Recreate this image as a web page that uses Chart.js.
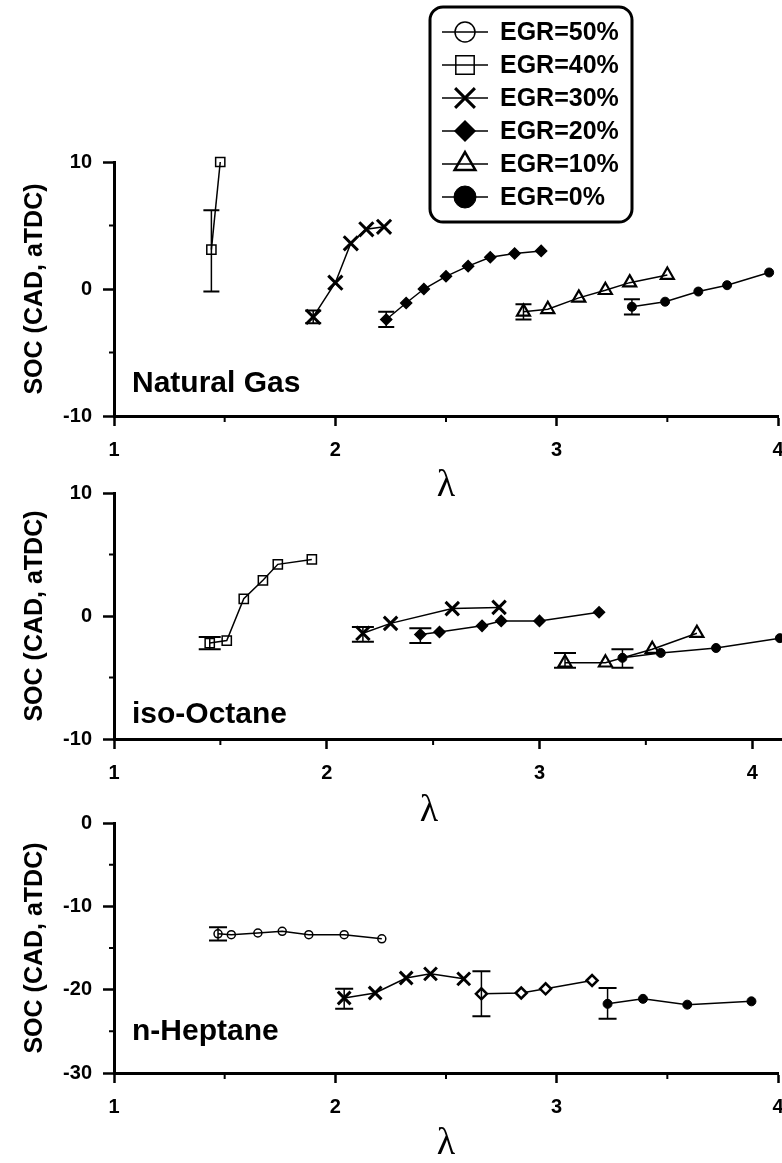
<!DOCTYPE html>
<html>
<head>
<meta charset="utf-8">
<title>SOC vs lambda</title>
<script src="https://cdn.jsdelivr.net/npm/chart.js@4.4.1/dist/chart.umd.min.js"></script>
<style>
  html, body { margin: 0; padding: 0; background: #fff; width: 782px; height: 1163px; overflow: hidden; }
  .panel { position: absolute; left: 0; }
  #ngChart { top: 0; }
  #ioChart { top: 470px; }
  #nhChart { top: 800px; }
</style>
</head>
<body>
<canvas id="ngChart" class="panel" width="800" height="505"></canvas>
<canvas id="ioChart" class="panel" width="800" height="360"></canvas>
<canvas id="nhChart" class="panel" width="800" height="363"></canvas>
<script>
'use strict';

/* ---- axis ticks ---- */
const xTicks = [1, 2, 3, 4];
const xMinor = [1.5, 2.5, 3.5];
const socTicks = [-10, 0, 10];
const socMinor = [-5, 5];
const heptTicks = [-30, -20, -10, 0];
const heptMinor = [-25, -15, -5];

const egrLabels = ['EGR=50%', 'EGR=40%', 'EGR=30%', 'EGR=20%', 'EGR=10%', 'EGR=0%'];
const fuelNames = ['Natural Gas', 'iso-Octane', 'n-Heptane'];

/* ---- Natural Gas ---- */
const ng40X = [1.44, 1.48];
const ng40Y = [3.1, 10.0];
const ng30X = [1.90, 2.00, 2.07, 2.14, 2.22];
const ng30Y = [-2.2, 0.5, 3.6, 4.7, 4.9];
const ng20X = [2.23, 2.32, 2.40, 2.50, 2.60, 2.70, 2.81, 2.93];
const ng20Y = [-2.4, -1.1, 0.0, 1.0, 1.8, 2.5, 2.8, 3.0];
const ng10X = [2.85, 2.96, 3.10, 3.22, 3.33, 3.50];
const ng10Y = [-1.8, -1.6, -0.7, -0.1, 0.5, 1.1];
const ng0X = [3.34, 3.49, 3.64, 3.77, 3.96];
const ng0Y = [-1.4, -1.0, -0.2, 0.3, 1.3];
// [point index, low, high]
const ng40Err = [[0, -0.2, 6.2]];
const ng30Err = [[0, -2.7, -1.7]];
const ng20Err = [[0, -3.0, -1.8]];
const ng10Err = [[0, -2.4, -1.2]];
const ng0Err = [[0, -2.0, -0.8]];

/* ---- iso-Octane ---- */
const io40X = [1.45, 1.53, 1.61, 1.70, 1.77, 1.93];
const io40Y = [-2.2, -2.0, 1.4, 2.9, 4.2, 4.6];
const io30X = [2.17, 2.30, 2.59, 2.81];
const io30Y = [-1.4, -0.6, 0.6, 0.7];
const io20X = [2.44, 2.53, 2.73, 2.82, 3.00, 3.28];
const io20Y = [-1.5, -1.3, -0.8, -0.4, -0.4, 0.3];
const io10X = [3.12, 3.31, 3.53, 3.74];
const io10Y = [-3.8, -3.8, -2.7, -1.4];
const io0X = [3.39, 3.57, 3.83, 4.13];
const io0Y = [-3.4, -3.0, -2.6, -1.8];
const io40Err = [[0, -2.7, -1.7]];
const io30Err = [[0, -2.1, -0.9]];
const io20Err = [[0, -2.2, -1.0]];
const io10Err = [[0, -4.2, -3.0]];
const io0Err = [[0, -4.2, -2.7]];

/* ---- n-Heptane ---- */
const nh50X = [1.47, 1.53, 1.65, 1.76, 1.88, 2.04, 2.21];
const nh50Y = [-13.3, -13.4, -13.2, -13.0, -13.4, -13.4, -13.9];
const nh30X = [2.04, 2.18, 2.32, 2.43, 2.58];
const nh30Y = [-21.0, -20.4, -18.6, -18.1, -18.7];
const nh20X = [2.66, 2.84, 2.95, 3.16];
const nh20Y = [-20.5, -20.4, -19.9, -18.9];
const nh0X = [3.23, 3.39, 3.59, 3.88];
const nh0Y = [-21.7, -21.1, -21.8, -21.4];
const nh50Err = [[0, -14.1, -12.5]];
const nh30Err = [[0, -22.3, -19.9]];
const nh20Err = [[0, -23.2, -17.8]];
const nh0Err = [[0, -23.5, -19.8]];

/* ---- marker look per EGR level ---- */
const CLEAR = 'rgba(0,0,0,0)';
const MARKERS = {
  'EGR=50%': { pointStyle: 'circle', fill: CLEAR, radius: 4, border: 1.5, legendRadius: 10, legendBorder: 1.5 },
  'EGR=40%': { pointStyle: 'rect', fill: CLEAR, radius: 6.5, border: 1.5, legendRadius: 13, legendBorder: 1.5 },
  'EGR=30%': { pointStyle: 'crossRot', fill: CLEAR, radius: 10, border: 3, legendRadius: 14, legendBorder: 3 },
  'EGR=20%': { pointStyle: 'rectRot', fill: '#000', radius: 5.5, border: 1.5, legendRadius: 10, legendBorder: 1.5 },
  'EGR=10%': { pointStyle: 'triangle', fill: CLEAR, radius: 7.5, border: 2.2, legendRadius: 12, legendBorder: 2.5 },
  'EGR=0%': { pointStyle: 'circle', fill: '#000', radius: 4.5, border: 1, legendRadius: 11, legendBorder: 1 },
};

const FONT = '"Liberation Sans", Arial, Helvetica, sans-serif';
const TICK_FONT = { family: FONT, size: 20, weight: 'bold' };

function series(label, xs, ys, errs, tweak = {}) {
  const m = MARKERS[label];
  return {
    label,
    data: xs.map((x, i) => ({ x, y: ys[i] })),
    showLine: true,
    tension: 0,
    fill: false,
    clip: false,
    borderColor: '#000',
    borderWidth: 1.5,
    pointStyle: m.pointStyle,
    pointRadius: (tweak.radius || m.radius),
    pointHoverRadius: (tweak.radius || m.radius),
    pointBackgroundColor: tweak.fill || m.fill,
    pointBorderColor: '#000',
    pointBorderWidth: tweak.border || m.border,
    errorBars: errs || [],
  };
}

/* vertical error bars with caps, placed through the y scale */
const errorBarPlugin = {
  id: 'errorBars',
  afterDatasetsDraw(chart, args, opts) {
    const { ctx } = chart;
    const yScale = chart.scales.y;
    ctx.save();
    ctx.strokeStyle = '#000';
    chart.data.datasets.forEach((ds, di) => {
      const meta = chart.getDatasetMeta(di);
      (ds.errorBars || []).forEach(([idx, lo, hi]) => {
        const pt = meta.data[idx];
        if (!pt) return;
        const yLo = yScale.getPixelForValue(lo);
        const yHi = yScale.getPixelForValue(hi);
        const half = opts.cap / 2;
        ctx.lineWidth = opts.lineWidth;
        ctx.beginPath();
        ctx.moveTo(pt.x, yLo);
        ctx.lineTo(pt.x, yHi);
        ctx.stroke();
        ctx.lineWidth = opts.capWidth;
        ctx.beginPath();
        ctx.moveTo(pt.x - half, yLo);
        ctx.lineTo(pt.x + half, yLo);
        ctx.moveTo(pt.x - half, yHi);
        ctx.lineTo(pt.x + half, yHi);
        ctx.stroke();
      });
    });
    ctx.restore();
  },
};

/* short unlabelled ticks between the major ones */
const minorTickPlugin = {
  id: 'minorTicks',
  afterDraw(chart, args, opts) {
    const { ctx, scales: { x, y } } = chart;
    ctx.save();
    ctx.strokeStyle = '#000';
    ctx.lineWidth = 2;
    ctx.beginPath();
    (opts.x || []).forEach((v) => {
      const px = x.getPixelForValue(v);
      ctx.moveTo(px, x.top);
      ctx.lineTo(px, x.top + opts.xLen);
    });
    (opts.y || []).forEach((v) => {
      const py = y.getPixelForValue(v);
      ctx.moveTo(y.right, py);
      ctx.lineTo(y.right - opts.yLen, py);
    });
    ctx.stroke();
    ctx.restore();
  },
};

/* fuel name in the lower-left corner of each panel */
const panelLabelPlugin = {
  id: 'panelLabel',
  afterDraw(chart, args, opts) {
    if (!opts.text) return;
    const { ctx, chartArea } = chart;
    ctx.save();
    ctx.font = 'bold 30px ' + FONT;
    ctx.fillStyle = '#000';
    ctx.textBaseline = 'alphabetic';
    ctx.fillText(opts.text, chartArea.left + opts.dx, chartArea.bottom - opts.dy);
    ctx.restore();
  },
};

/* boxed key for all EGR levels, drawn above the first panel */
const egrLegendPlugin = {
  id: 'egrLegend',
  afterDraw(chart, args, opts) {
    if (!opts.show) return;
    const { ctx } = chart;
    ctx.save();
    ctx.strokeStyle = '#000';
    ctx.lineWidth = 3;
    ctx.beginPath();
    ctx.roundRect(opts.left, opts.top, opts.width, opts.height, 13);
    ctx.stroke();
    egrLabels.forEach((label, i) => {
      const m = MARKERS[label];
      const cy = opts.firstRow + i * opts.rowGap;
      ctx.strokeStyle = '#000';
      ctx.lineWidth = 1.5;
      ctx.beginPath();
      ctx.moveTo(opts.left + 12, cy);
      ctx.lineTo(opts.left + 58, cy);
      ctx.stroke();
      ctx.fillStyle = m.fill;
      ctx.lineWidth = m.legendBorder;
      Chart.helpers.drawPoint(ctx, {
        pointStyle: m.pointStyle,
        radius: m.legendRadius,
        rotation: 0,
        borderWidth: m.legendBorder,
      }, opts.left + 35, cy);
      ctx.fillStyle = '#000';
      ctx.font = 'bold 25px ' + FONT;
      ctx.textBaseline = 'middle';
      ctx.textAlign = 'left';
      ctx.fillText(label, opts.left + 70, cy + 1);
    });
    ctx.restore();
  },
};

function makePanel(canvasId, cfg) {
  return new Chart(document.getElementById(canvasId), {
    type: 'scatter',
    data: { datasets: cfg.datasets },
    options: {
      responsive: false,
      animation: false,
      events: [],
      layout: { padding: { left: 0, top: cfg.padTop, right: cfg.padRight, bottom: 0 } },
      scales: {
        x: {
          type: 'linear',
          min: 1,
          max: cfg.xMax,
          afterBuildTicks: (s) => { s.ticks = xTicks.map((v) => ({ value: v })); },
          afterFit: (s) => { s.height = cfg.xHeight; },
          border: { color: '#000', width: 3 },
          grid: { drawOnChartArea: false, tickLength: 10, tickWidth: 2.5, tickColor: '#000' },
          ticks: {
            color: '#000', font: TICK_FONT, padding: 12,
            maxRotation: 0, autoSkip: false,
            callback: (v) => String(v),
          },
          title: {
            display: true,
            text: cfg.xTitle,
            color: '#000',
            font: { family: '"Liberation Serif", "DejaVu Serif", serif', size: 38, lineHeight: 1 },
            padding: 0,
          },
        },
        y: {
          type: 'linear',
          min: cfg.yTicks[0],
          max: cfg.yTicks[cfg.yTicks.length - 1],
          afterBuildTicks: (s) => { s.ticks = cfg.yTicks.map((v) => ({ value: v })); },
          afterFit: (s) => { s.width = 114; },
          border: { color: '#000', width: 3 },
          grid: { drawOnChartArea: false, tickLength: 11, tickWidth: 2.5, tickColor: '#000' },
          ticks: { color: '#000', font: TICK_FONT, padding: 11, callback: (v) => String(v) },
          title: {
            display: true,
            text: 'SOC (CAD, aTDC)',
            color: '#000',
            font: { family: FONT, size: 25, weight: 'bold' },
            padding: { top: 20, bottom: 0 },
          },
        },
      },
      plugins: {
        legend: { display: false },
        tooltip: { enabled: false },
        errorBars: { cap: cfg.cap, lineWidth: 1.5, capWidth: 2 },
        minorTicks: { x: xMinor, y: cfg.yMinor, xLen: 6, yLen: 5 },
        panelLabel: { text: cfg.name, dx: 18, dy: cfg.labelDy },
        egrLegend: {
          show: !!cfg.legend,
          left: 430, top: 7, width: 202, height: 215,
          firstRow: 32, rowGap: 33,
        },
      },
    },
    plugins: [errorBarPlugin, minorTickPlugin, panelLabelPlugin, egrLegendPlugin],
  });
}

makePanel('ngChart', {
  name: fuelNames[0],
  padTop: 162, padRight: 22, xMax: 4, xHeight: 89,
  yTicks: socTicks, yMinor: socMinor,
  xTitle: 'λ', cap: 16, labelDy: 24, legend: true,
  datasets: [
    series('EGR=40%', ng40X, ng40Y, ng40Err),
    series('EGR=30%', ng30X, ng30Y, ng30Err),
    series('EGR=20%', ng20X, ng20Y, ng20Err),
    series('EGR=10%', ng10X, ng10Y, ng10Err),
    series('EGR=0%', ng0X, ng0Y, ng0Err),
  ],
});

makePanel('ioChart', {
  name: fuelNames[1],
  padTop: 19, padRight: 18, xMax: 4.14, xHeight: 91,
  yTicks: socTicks, yMinor: socMinor,
  xTitle: 'λ\u2003', cap: 22, labelDy: 16,
  datasets: [
    series('EGR=40%', io40X, io40Y, io40Err),
    series('EGR=30%', io30X, io30Y, io30Err, { radius: 9.5 }),
    series('EGR=20%', io20X, io20Y, io20Err),
    series('EGR=10%', io10X, io10Y, io10Err),
    series('EGR=0%', io0X, io0Y, io0Err),
  ],
});

makePanel('nhChart', {
  name: fuelNames[2],
  padTop: 20, padRight: 22, xMax: 4, xHeight: 90,
  yTicks: heptTicks, yMinor: heptMinor,
  xTitle: 'λ', cap: 18, labelDy: 33,
  datasets: [
    series('EGR=50%', nh50X, nh50Y, nh50Err),
    series('EGR=30%', nh30X, nh30Y, nh30Err, { radius: 9 }),
    series('EGR=20%', nh20X, nh20Y, nh20Err, { fill: '#fff', border: 2.5 }),
    series('EGR=0%', nh0X, nh0Y, nh0Err),
  ],
});
</script>
</body>
</html>
